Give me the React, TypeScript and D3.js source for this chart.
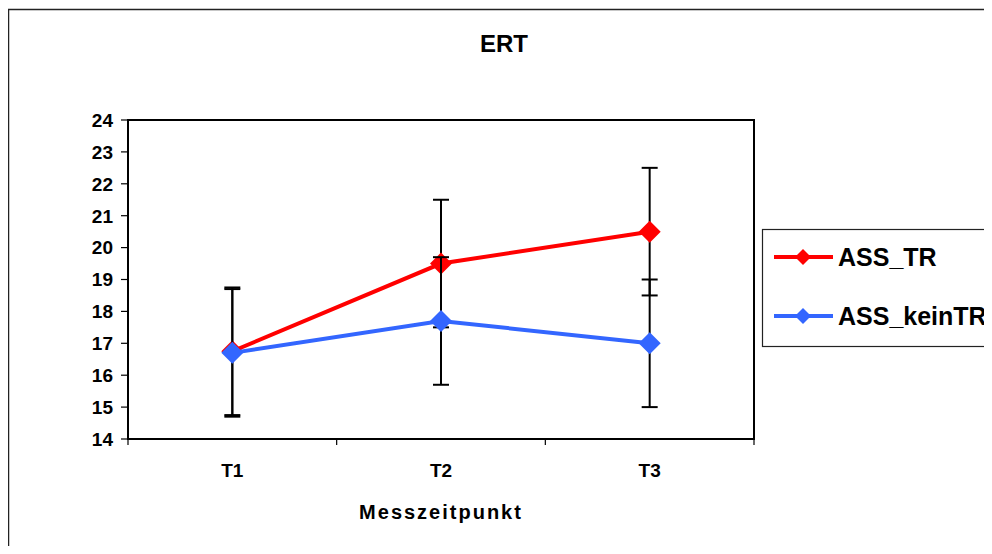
import React from 'react';
import * as d3 from 'd3';

const categories = ['T1', 'T2', 'T3'];
const assTR = [16.75, 19.5, 20.5];
const assKeinTR = [16.7, 17.7, 17.0];
const sdTR = [2, 2, 2];
const sdKeinTR = [2, 2, 2];
const yTicks = [14, 15, 16, 17, 18, 19, 20, 21, 22, 23, 24];

const series = [
  { name: 'ASS_TR', values: assTR, sd: sdTR, color: '#FF0000' },
  { name: 'ASS_keinTR', values: assKeinTR, sd: sdKeinTR, color: '#3366FF' },
];

const W = 992;
const H = 554;
const plot = { left: 128, right: 754, top: 120, bottom: 439 };
const font = '"Liberation Sans", Arial, sans-serif';

export default function App() {
  const x = d3.scaleBand<string>().domain(categories).range([plot.left, plot.right]);
  const y = d3.scaleLinear().domain([14, 24]).range([plot.bottom, plot.top]);
  const cx = (c: string) => (x(c) || 0) + x.bandwidth() / 2;

  const line = d3.line<number>()
    .x((_, i) => cx(categories[i]))
    .y(d => y(d));

  const diamond = (px: number, py: number, r: number) =>
    `M${px},${py - r}L${px + r},${py}L${px},${py + r}L${px - r},${py}Z`;

  const bounds = [...categories.map(c => x(c) || 0), plot.right];

  return (
    <div style={{ margin: -8 }}>
      <svg width={W} height={H} style={{ display: 'block', fontFamily: font }}>
        <rect x={0} y={0} width={W} height={H} fill="#fff" />
        <rect x={8.5} y={9.5} width={W + 20} height={H + 20} fill="none" stroke="#222" strokeWidth={1.5} />

        <text x={504} y={52} textAnchor="middle" fontWeight="bold" fontSize={24}>ERT</text>

        {/* plot area */}
        <rect x={plot.left} y={plot.top} width={plot.right - plot.left} height={plot.bottom - plot.top}
          fill="#fff" stroke="#000" strokeWidth={2} />

        {yTicks.map(t => (
          <g key={t}>
            <line x1={plot.left - 7} x2={plot.left} y1={y(t)} y2={y(t)} stroke="#000" strokeWidth={1.2} />
            <text x={113} y={y(t)} dy="0.36em" textAnchor="end" fontWeight="bold" fontSize={19}>{t}</text>
          </g>
        ))}
        {bounds.map((b, i) => (
          <line key={i} x1={b} x2={b} y1={plot.bottom} y2={plot.bottom + 6} stroke="#000" strokeWidth={1.2} />
        ))}
        {categories.map(c => (
          <text key={c} x={cx(c)} y={477} textAnchor="middle" fontWeight="bold" fontSize={19}>{c}</text>
        ))}
        <text x={441} y={519} textAnchor="middle" fontWeight="bold" fontSize={20} letterSpacing={2}>Messzeitpunkt</text>

        {series.map(s => (
          <g key={s.name}>
            {s.values.map((v, i) => {
              const px = cx(categories[i]);
              const hi = y(v + s.sd[i]);
              const lo = y(v - s.sd[i]);
              return (
                <g key={i} stroke="#000" strokeWidth={2}>
                  <line x1={px} x2={px} y1={hi} y2={lo} />
                  <line x1={px - 8} x2={px + 8} y1={hi} y2={hi} />
                  <line x1={px - 8} x2={px + 8} y1={lo} y2={lo} />
                </g>
              );
            })}
            <path d={line(s.values) || ''} fill="none" stroke={s.color} strokeWidth={4} />
            {s.values.map((v, i) => (
              <path key={i} d={diamond(cx(categories[i]), y(v), 11)} fill={s.color} />
            ))}
          </g>
        ))}

        {/* legend */}
        <rect x={762.5} y={229.5} width={300} height={117} fill="#fff" stroke="#222" strokeWidth={1.2} />
        {series.map((s, i) => {
          const ly = 257 + i * 59;
          return (
            <g key={s.name}>
              <line x1={774} x2={833} y1={ly} y2={ly} stroke={s.color} strokeWidth={4} />
              <path d={diamond(803, ly, 8)} fill={s.color} />
              <text x={838} y={ly + 9} fontWeight="bold" fontSize={25}>{s.name}</text>
            </g>
          );
        })}
      </svg>
    </div>
  );
}
